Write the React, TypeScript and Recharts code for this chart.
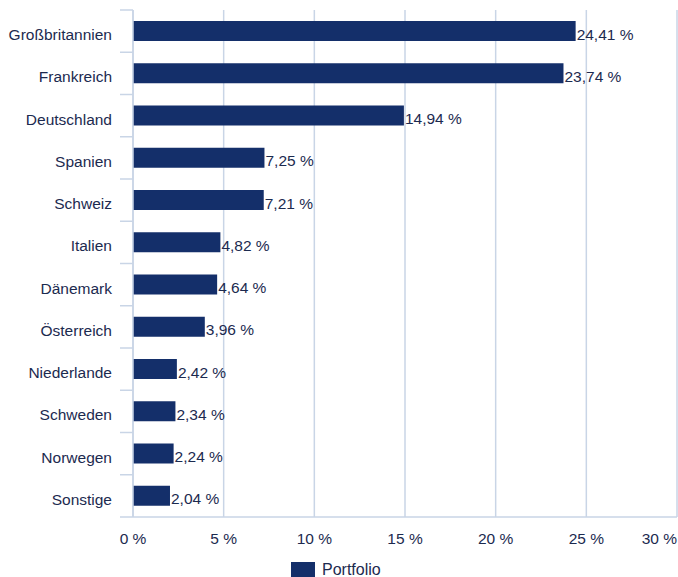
import React from 'react';
import { BarChart, Bar, XAxis, YAxis, CartesianGrid, LabelList } from 'recharts';

const countries = ['Großbritannien', 'Frankreich', 'Deutschland', 'Spanien', 'Schweiz', 'Italien', 'Dänemark', 'Österreich', 'Niederlande', 'Schweden', 'Norwegen', 'Sonstige'];
const portfolio = [24.41, 23.74, 14.94, 7.25, 7.21, 4.82, 4.64, 3.96, 2.42, 2.34, 2.24, 2.04];
const xTicks = [0, 5, 10, 15, 20, 25, 30];
const seriesName = 'Portfolio';

const data = countries.map((name, i) => ({ name, value: portfolio[i] }));

const FONT = '"Liberation Sans", Arial, Helvetica, sans-serif';
const TEXT = '#1c2a4f';
const BAR = '#142f6a';
const GRID = '#c9d5e6';

const fmt = (v: number) => v.toFixed(2).replace('.', ',') + ' %';

const YTick = (props: any) => {
  const { x, y, payload, index, visibleTicksCount } = props;
  const half = payload && payload.offset ? payload.offset : 21.1;
  const axisX = x + 8;
  const last = index === (visibleTicksCount ? visibleTicksCount - 1 : countries.length - 1);
  return (
    <g>
      <line x1={axisX - 13} x2={axisX} y1={y - half} y2={y - half} stroke={GRID} strokeWidth={1.5} />
      {last && <line x1={axisX - 13} x2={axisX} y1={y + half} y2={y + half} stroke={GRID} strokeWidth={1.5} />}
      <text x={112} y={y} dy={9} textAnchor="end" fill={TEXT} fontSize={15.5} fontFamily={FONT}>
        {payload.value}
      </text>
    </g>
  );
};

const XTick = (props: any) => {
  const { x, y, payload } = props;
  const isLast = payload.value === 30;
  return (
    <text x={x} y={y} dy={19} textAnchor={isLast ? 'end' : 'middle'} fill={TEXT} fontSize={15.5} fontFamily={FONT}>
      {payload.value + ' %'}
    </text>
  );
};

const ValueLabel = (props: any) => {
  const { x, y, width, height, value } = props;
  return (
    <text x={x + width + 1} y={y + height / 2} dy={8.5} textAnchor="start" fill={TEXT} fontSize={15.5} fontFamily={FONT}>
      {fmt(value)}
    </text>
  );
};

export default function App() {
  return (
    <div style={{ position: 'absolute', left: 0, top: 0, width: 678, height: 577, background: '#fff', overflow: 'hidden' }}>
      <BarChart
        width={678}
        height={577}
        data={data}
        layout="vertical"
        margin={{ top: 10, right: 1, left: 0, bottom: 30 }}
      >
        <CartesianGrid horizontal={false} vertical={true} stroke={GRID} strokeWidth={1.5} />
        <XAxis
          type="number"
          domain={[0, 30]}
          ticks={xTicks}
          interval={0}
          tickLine={false}
          axisLine={{ stroke: GRID, strokeWidth: 1.5 }}
          height={30}
          tick={<XTick />}
        />
        <YAxis
          type="category"
          dataKey="name"
          width={133}
          interval={0}
          tickLine={false}
          axisLine={{ stroke: GRID, strokeWidth: 1.5 }}
          tick={<YTick />}
        />
        <Bar dataKey="value" name={seriesName} fill={BAR} barSize={20} isAnimationActive={false}>
          <LabelList dataKey="value" content={<ValueLabel />} />
        </Bar>
      </BarChart>
      <div style={{ position: 'absolute', left: 291, top: 562, display: 'flex', alignItems: 'center', fontFamily: FONT, fontSize: 16, color: TEXT }}>
        <span style={{ display: 'inline-block', width: 24, height: 15, background: BAR, marginRight: 7 }} />
        <span style={{ lineHeight: '15px' }}>{seriesName}</span>
      </div>
    </div>
  );
}
